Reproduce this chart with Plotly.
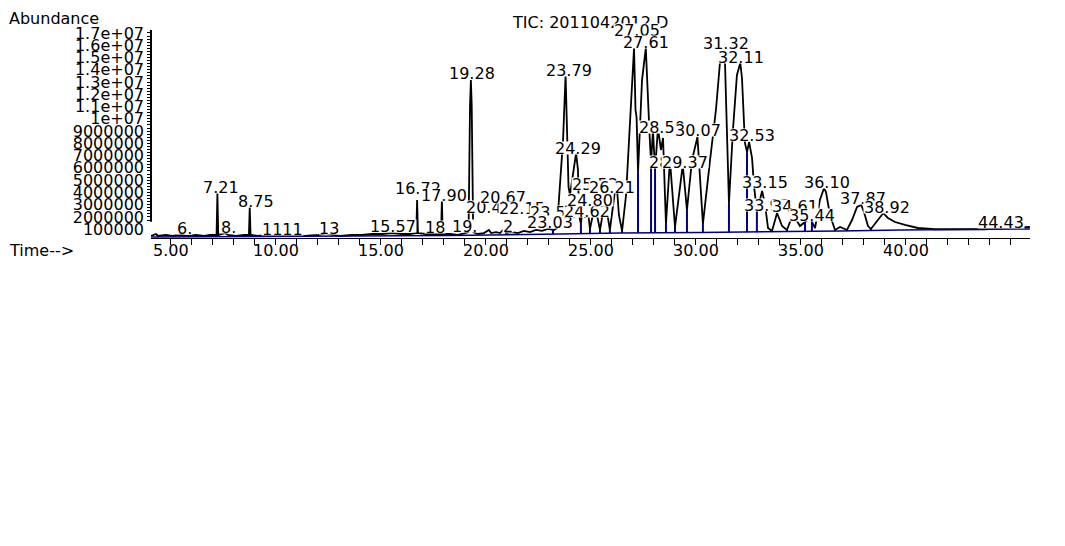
import plotly.graph_objects as go

# ---- chromatogram (TIC): time (min) / abundance ----
trace_time = [4.05, 4.29, 4.38, 4.76, 5.05, 5.43, 5.81, 6.19, 6.57, 6.86, 7.17, 7.21, 7.25, 7.43, 7.57, 7.71,
              8.10, 8.48, 8.71, 8.75, 8.79, 9.14, 9.62, 10.19, 10.76, 11.38, 12.00, 12.38, 12.71, 13.05,
              13.62, 14.10, 14.57, 15.05, 15.52, 16.00, 16.38, 16.68, 16.72, 16.76, 17.14, 17.52, 17.86,
              17.90, 17.94, 18.29, 18.67, 19.00, 19.17, 19.24, 19.28, 19.32, 19.39, 19.62, 19.90, 20.14,
              20.24, 20.48, 20.67, 20.86, 20.95, 21.24, 21.52, 21.81, 22.10, 22.38, 22.67, 22.95, 23.24,
              23.38, 23.52, 23.67, 23.79, 23.88, 23.93, 24.00, 24.29, 24.38, 24.43, 24.52, 24.62, 24.71,
              24.80, 24.95, 25.19, 25.43, 25.67, 25.90, 26.21, 26.33, 26.48, 26.67, 26.86, 27.05, 27.12,
              27.17, 27.24, 27.33, 27.43, 27.61, 27.69, 27.79, 27.86, 27.95, 28.05, 28.19, 28.33, 28.43,
              28.57, 28.76, 29.00, 29.37, 29.57, 29.81, 30.07, 30.19, 30.33, 30.67, 30.95, 31.14, 31.24,
              31.38, 31.48, 31.57, 31.76, 31.95, 32.11, 32.19, 32.33, 32.43, 32.53, 32.67, 32.76, 32.90,
              33.15, 33.29, 33.43, 33.62, 33.86, 34.10, 34.33, 34.62, 34.95, 35.19, 35.44, 35.52, 35.67,
              35.90, 36.10, 36.19, 36.38, 36.62, 36.86, 37.19, 37.43, 37.67, 37.87, 38.00, 38.19, 38.33,
              38.57, 38.92, 39.14, 39.48, 39.95, 40.57, 41.38, 42.57, 43.76, 44.43, 45.43, 45.90]
trace_abund = [0.45e6, 0.61e6, 0.45e6, 0.53e6, 0.45e6, 0.53e6, 0.45e6, 0.53e6, 0.45e6, 0.53e6, 0.53e6, 3.95e6,
               0.53e6, 0.61e6, 0.69e6, 0.53e6, 0.45e6, 0.53e6, 0.53e6, 2.79e6, 0.53e6, 0.45e6, 0.53e6,
               0.45e6, 0.53e6, 0.45e6, 0.53e6, 0.69e6, 0.53e6, 0.45e6, 0.53e6, 0.53e6, 0.61e6, 0.61e6,
               0.69e6, 0.61e6, 0.61e6, 0.69e6, 3.38e6, 0.69e6, 0.61e6, 0.61e6, 0.61e6, 3.38e6, 0.61e6,
               0.61e6, 0.53e6, 0.69e6, 0.77e6, 11.10e6, 13.16e6, 11.10e6, 0.77e6, 0.61e6, 0.69e6, 0.94e6,
               0.69e6, 0.77e6, 0.69e6, 1.02e6, 0.69e6, 0.77e6, 0.69e6, 0.86e6, 0.77e6, 0.94e6, 0.86e6,
               1.02e6, 0.94e6, 1.10e6, 4.44e6, 8.27e6, 13.57e6, 8.27e6, 4.44e6, 3.79e6, 7.21e6, 5.83e6,
               2.16e6, 1.43e6, 2.98e6, 1.92e6, 3.38e6, 1.02e6, 2.98e6, 0.94e6, 3.38e6, 0.94e6, 5.01e6,
               2.16e6, 0.86e6, 3.79e6, 9.90e6, 15.77e6, 10.72e6, 10.15e6, 5.66e6, 9.49e6, 13.16e6,
               15.77e6, 11.94e6, 8.68e6, 6.40e6, 9.09e6, 5.83e6, 9.25e6, 7.46e6, 8.44e6, 1.43e6, 6.64e6,
               1.18e6, 6.23e6, 2.57e6, 6.64e6, 8.52e6, 5.01e6, 1.43e6, 6.64e6, 10.72e6, 14.55e6, 14.63e6,
               14.63e6, 7.46e6, 3.14e6, 9.09e6, 13.57e6, 14.55e6, 13.33e6, 8.03e6, 7.29e6, 8.11e6, 6.80e6,
               4.60e6, 2.40e6, 4.12e6, 2.98e6, 1.10e6, 0.86e6, 2.32e6, 1.26e6, 0.94e6, 2.24e6, 1.26e6,
               1.59e6, 1.92e6, 1.59e6, 1.10e6, 3.38e6, 4.36e6, 4.03e6, 2.16e6, 0.94e6, 1.18e6, 0.94e6,
               1.75e6, 2.81e6, 2.98e6, 2.40e6, 1.26e6, 1.02e6, 1.59e6, 2.32e6, 1.92e6, 1.59e6, 1.35e6,
               1.10e6, 1.00e6, 0.98e6, 1.00e6, 1.06e6, 1.10e6, 1.18e6]

# integration baseline (blue)
base_time = [4.05, 11.14, 18.29, 23.52, 26.38, 30.19, 33.52, 36.86, 39.71, 42.57, 45.90]
base_abund = [0.37e6, 0.41e6, 0.49e6, 0.61e6, 0.69e6, 0.73e6, 0.77e6, 0.86e6, 0.94e6, 0.98e6, 1.02e6]

# blue drop lines at peak boundaries
drop_time = [23.19, 24.52, 24.95, 25.43, 25.90, 26.48, 27.24, 27.86, 28.05, 28.57, 29.00, 29.57, 30.33,
             31.57, 32.43, 32.90, 33.62, 34.33, 35.19, 35.52, 36.62, 37.19, 38.33]
drop_base = [0.59e6, 0.64e6, 0.66e6, 0.67e6, 0.68e6, 0.69e6, 0.70e6, 0.70e6, 0.71e6, 0.71e6, 0.72e6, 0.72e6,
             0.73e6, 0.75e6, 0.76e6, 0.76e6, 0.77e6, 0.79e6, 0.81e6, 0.82e6, 0.85e6, 0.87e6, 0.90e6]
drop_top = [1.02e6, 1.43e6, 1.02e6, 0.94e6, 0.94e6, 0.86e6, 5.66e6, 6.40e6, 5.83e6, 1.43e6, 1.18e6, 2.57e6,
            1.43e6, 3.14e6, 7.29e6, 2.40e6, 0.86e6, 0.94e6, 1.59e6, 1.59e6, 0.94e6, 0.94e6, 1.02e6]

# peak labels (retention times) and where they sit
label_text = ["6.", "8.", "7.21", "8.75", "1111", "13", "15.57", "16.72", "17.90", "18", "19.", "19.28",
              "20.47", "20.67", "2", "22.15", "23.79", "23.51", "23.03", "24.29", "24.62", "24.80", "25.53",
              "26.21", "27.05", "27.61", "28.50", "28.73", "29.37", "30.07", "31.32", "32.11", "32.53",
              "33.15", "33.93", "34.61", "35.44", "36.10", "37.87", "38.92", "44.43"]
label_time = [5.62, 7.76, 7.38, 9.05, 10.33, 12.52, 15.57, 16.76, 18.00, 17.57, 19.00, 19.33,
              20.14, 20.81, 21.05, 21.71, 23.95, 23.19, 23.05, 24.38, 24.81, 24.95, 25.19,
              26.00, 27.19, 27.62, 28.38, 28.86, 29.48, 30.10, 31.43, 32.14, 32.67,
              33.29, 33.38, 34.71, 35.52, 36.24, 37.95, 39.10, 44.52]
label_abund = [1.10e6, 1.18e6, 4.44e6, 3.30e6, 0.98e6, 1.10e6, 1.26e6, 4.36e6, 3.79e6, 1.18e6, 1.26e6, 13.73e6,
               2.81e6, 3.63e6, 1.26e6, 2.73e6, 13.98e6, 2.40e6, 1.55e6, 7.62e6, 2.49e6, 3.38e6, 4.69e6,
               4.44e6, 17.20e6, 16.26e6, 9.33e6, 6.48e6, 6.48e6, 9.09e6, 16.18e6, 15.04e6, 8.68e6,
               4.85e6, 2.97e6, 2.89e6, 2.16e6, 4.85e6, 3.55e6, 2.81e6, 1.59e6]

ytick_vals = [1e6, 2e6, 3e6, 4e6, 5e6, 6e6, 7e6, 8e6, 9e6, 10e6, 11e6, 12e6, 13e6, 14e6, 15e6, 16e6, 17e6]
ytick_text = ["100000", "2000000", "3000000", "4000000", "5000000", "6000000", "7000000", "8000000",
              "9000000", "1e+07", "1.1e+07", "1.2e+07", "1.3e+07", "1.4e+07", "1.5e+07", "1.6e+07", "1.7e+07"]
xtick_vals = [5, 10, 15, 20, 25, 30, 35, 40]
xtick_text = ["5.00", "10.00", "15.00", "20.00", "25.00", "30.00", "35.00", "40.00"]

FONT = "DejaVu Sans"
FS = 16
BLUE = "#000080"

fig = go.Figure()
fig.add_trace(go.Scatter(x=trace_time, y=trace_abund, mode="lines",
                         line=dict(color="black", width=1.8), showlegend=False, hoverinfo="skip"))
fig.add_trace(go.Scatter(x=base_time, y=base_abund, mode="lines",
                         line=dict(color=BLUE, width=1.5), showlegend=False, hoverinfo="skip"))
dx, dy = [], []
for t, b, h in zip(drop_time, drop_base, drop_top):
    dx += [t, t, None]
    dy += [b, h, None]
fig.add_trace(go.Scatter(x=dx, y=dy, mode="lines", line=dict(color=BLUE, width=2),
                         showlegend=False, hoverinfo="skip"))

tf = dict(family=FONT, size=FS, color="black")
annotations = [
    dict(text="Abundance", xref="paper", yref="paper", x=-0.1627, y=1.106, xanchor="left", yanchor="top",
         showarrow=False, font=tf, borderpad=0),
    dict(text="Time-->", xref="paper", yref="paper", x=-0.1627, y=-0.0577, xanchor="left",
         yanchor="middle", showarrow=False, font=tf, borderpad=0),
    dict(text="TIC: 2011042012.D", xref="paper", yref="paper", x=0.4994, y=1.0337, xanchor="center",
         yanchor="middle", showarrow=False, font=tf, bgcolor="white", borderpad=0, height=13),
]
for txt, t in zip(xtick_text, xtick_vals):
    annotations.append(dict(text=txt, x=t, xref="x", yref="paper", y=-0.0577, showarrow=False,
                            xanchor="center", yanchor="middle", font=tf, borderpad=0))
for txt, t, v in zip(label_text, label_time, label_abund):
    annotations.append(dict(text=txt, x=t, y=v, xref="x", yref="y", showarrow=False,
                            xanchor="center", yanchor="middle", bgcolor="white", borderpad=0, height=12,
                            font=tf))

y_minor = [1.75e6 + 0.25e6 * i for i in range(62)]

fig.update_layout(
    width=1057, height=538,
    margin=dict(l=143, r=35, t=22, b=308),
    paper_bgcolor="white", plot_bgcolor="white",
    annotations=annotations,
    shapes=[dict(type="line", xref="paper", x0=0, x1=0, yref="y", y0=1.6e6, y1=17.24e6,
                 line=dict(color="black", width=2))],
    xaxis=dict(range=[4.048, 45.905], showgrid=False, zeroline=False, showline=True,
               linecolor="black", linewidth=1, ticks="outside", ticklen=6, tickcolor="black",
               tickvals=xtick_vals, showticklabels=False,
               minor=dict(ticks="outside", ticklen=6, tick0=0, dtick=1, tickcolor="black")),
    yaxis=dict(range=[0.285e6, 17.24e6], showgrid=False, zeroline=False, showline=False,
               ticks="", tickvals=ytick_vals, ticktext=ytick_text, ticklabelstandoff=6,
               minor=dict(ticks="outside", ticklen=3, tickmode="array", tickvals=y_minor,
                          tickcolor="black"),
               tickfont=tf),
)

fig.write_html("out.html")
